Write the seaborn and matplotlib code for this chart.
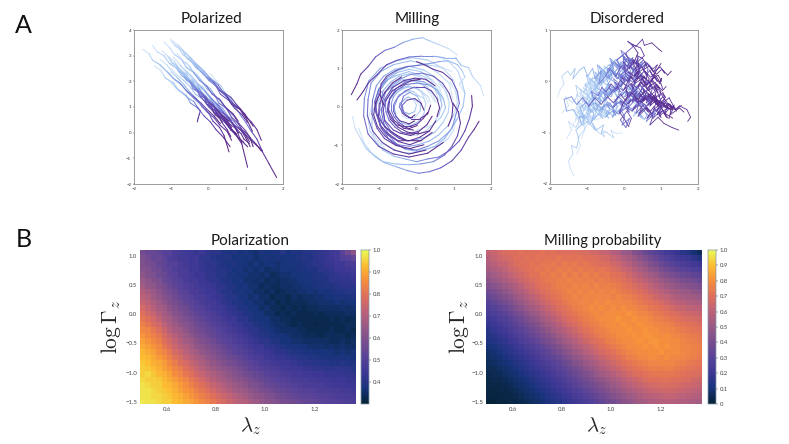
import numpy as np
import pandas as pd
import matplotlib
matplotlib.use('Agg')
import matplotlib.pyplot as plt
import seaborn as sns
from matplotlib.colors import LinearSegmentedColormap

sns.set_theme(style='white')
plt.rcParams['font.family'] = ['Lato', 'DejaVu Sans']

## trajectories
polarized_x = [
    [-1.77,-1.6,-1.5,-1.3,-1.12,-0.95,-0.78,-0.6,-0.42,-0.2,-0.05,0.15,0.32],
    [-1.5,-1.38,-1.2,-1.05,-0.85,-0.72,-0.5,-0.35,-0.15,0.0,0.2,0.35,0.55],
    [-1.2,-1.05,-0.92,-0.72,-0.6,-0.4,-0.25,-0.05,0.1,0.3,0.45,0.65,0.8],
    [-1.03,-0.9,-0.7,-0.58,-0.38,-0.22,-0.05,0.15,0.3,0.5,0.62,0.85,1.0],
    [-1.0,-0.82,-0.7,-0.5,-0.35,-0.15,0.0,0.2,0.32,0.55,0.7,0.9,1.05],
    [-0.98,-0.8,-0.62,-0.48,-0.28,-0.12,0.05,0.25,0.38,0.6,0.75,0.98,1.2],
    [-0.9,-0.75,-0.55,-0.4,-0.22,-0.05,0.12,0.3,0.48,0.65,0.85,1.0,1.18],
    [-1.4,-1.25,-1.05,-0.9,-0.72,-0.55,-0.4,-0.2,-0.05,0.15,0.3,0.5,0.62],
    [-1.45,-1.28,-1.15,-0.95,-0.8,-0.6,-0.48,-0.28,-0.12,0.05,0.2,0.4,0.58],
    [-1.2,-1.02,-0.88,-0.7,-0.55,-0.4,-0.3,-0.22,-0.25,-0.28,-0.3],
    [-1.0,-0.85,-0.68,-0.5,-0.35,-0.15,0.0,0.2,0.38,0.55,0.7,0.88,1.05],
    [-0.7,-0.55,-0.38,-0.2,-0.05,0.15,0.3,0.5,0.65,0.85,1.02,1.2,1.45],
    [-0.55,-0.4,-0.25,-0.05,0.1,0.3,0.45,0.62,0.82,1.0,1.15,1.3,1.42],
    [0.05,0.2,0.35,0.42,0.6,0.7,0.85,1.0,1.15,1.3,1.45,1.62,1.83],
    [-0.95,-0.8,-0.62,-0.45,-0.3,-0.1,0.05,0.25,0.4,0.58,0.72,0.88,1.05],
    [-0.85,-0.7,-0.5,-0.38,-0.2,-0.05,0.15,0.28,0.48,0.62,0.8,0.95,1.1],
    [-1.1,-0.92,-0.78,-0.6,-0.45,-0.25,-0.1,0.1,0.22,0.42,0.55,0.72,0.9],
    [-0.6,-0.48,-0.3,-0.15,0.05,0.18,0.35,0.5,0.68,0.82,0.98,1.1,1.2],
    [-1.25,-1.08,-0.95,-0.75,-0.6,-0.42,-0.28,-0.1,0.05,0.22,0.35,0.5,0.6],
    [-0.75,-0.6,-0.45,-0.28,-0.1,0.05,0.22,0.35,0.55,0.7,0.88,1.0,1.12],
    [-0.4,-0.25,-0.1,0.05,0.2,0.38,0.52,0.68,0.82,0.98,1.12,1.28,1.42],
    [-1.3,-1.12,-0.98,-0.82,-0.65,-0.5,-0.32,-0.18,0.0,0.12,0.3,0.42,0.55],
    [-1.05,-0.98,-0.85,-0.8,-0.68,-0.62,-0.5,-0.42,-0.3,-0.24,-0.1,-0.05,0.08,0.15,0.28,0.38],
    [-0.8,-0.72,-0.6,-0.55,-0.42,-0.38,-0.25,-0.18,-0.05,0.0,0.12,0.2,0.3,0.38,0.5,0.62],
    [-0.62,-0.55,-0.42,-0.38,-0.25,-0.2,-0.08,0.0,0.1,0.18,0.28,0.38,0.48,0.58,0.7,0.82],
    [-0.9,-0.78,-0.72,-0.6,-0.55,-0.42,-0.36,-0.22,-0.18,-0.05,0.02,0.15,0.2,0.35,0.42,0.52],
    [-0.5,-0.42,-0.3,-0.26,-0.12,-0.08,0.05,0.12,0.22,0.3,0.42,0.5,0.62,0.72,0.8,0.95],
    [-1.15,-1.05,-0.98,-0.85,-0.8,-0.66,-0.6,-0.48,-0.42,-0.28,-0.22,-0.1,-0.02,0.1,0.18,0.3],
    [-0.72,-0.6,-0.55,-0.42,-0.35,-0.22,-0.18,-0.05,0.02,0.15,0.2,0.32,0.42,0.52,0.6,0.75],
    [-0.35,-0.28,-0.15,-0.1,0.02,0.1,0.2,0.28,0.38,0.48,0.55,0.68,0.78,0.88,0.95,1.1],
]
polarized_y = [
    [3.25,3.08,2.82,2.65,2.38,2.12,1.95,1.65,1.42,1.15,0.92,0.65,0.35],
    [3.4,3.15,3.0,2.7,2.5,2.22,2.0,1.7,1.5,1.2,0.95,0.7,0.45],
    [3.55,3.32,3.05,2.85,2.55,2.35,2.05,1.82,1.5,1.3,1.0,0.75,0.45],
    [3.65,3.38,3.2,2.9,2.7,2.4,2.15,1.95,1.65,1.4,1.1,0.9,0.6],
    [3.55,3.35,3.05,2.85,2.55,2.32,2.05,1.82,1.5,1.25,0.95,0.7,0.4],
    [3.6,3.4,3.12,2.92,2.62,2.4,2.12,1.88,1.6,1.38,1.1,0.72,0.25],
    [3.45,3.25,3.0,2.72,2.5,2.2,2.0,1.68,1.45,1.15,0.92,0.6,0.05],
    [2.75,2.55,2.32,2.05,1.85,1.55,1.35,1.08,0.82,0.58,0.3,0.05,-0.3],
    [2.6,2.42,2.12,1.95,1.65,1.45,1.15,0.95,0.65,0.42,0.12,-0.18,-0.55],
    [2.2,1.98,1.75,1.55,1.35,1.22,1.0,0.85,0.7,0.55,0.42],
    [2.5,2.25,2.05,1.8,1.5,1.3,1.0,0.75,0.5,0.2,-0.05,-0.3,-0.55],
    [2.3,2.08,1.82,1.6,1.32,1.12,0.85,0.62,0.35,0.12,-0.12,-0.38,-0.7],
    [2.9,2.65,2.45,2.15,1.95,1.65,1.45,1.15,0.95,0.62,0.42,0.12,-0.3],
    [2.3,2.02,1.8,1.6,1.3,1.05,0.7,0.4,0.05,-0.25,-0.75,-1.2,-1.75],
    [2.95,2.7,2.42,2.2,1.9,1.65,1.35,1.1,0.8,0.5,0.2,-0.35,-1.35],
    [3.1,2.82,2.58,2.28,2.05,1.72,1.5,1.15,0.95,0.6,0.35,0.0,-0.35],
    [3.0,2.78,2.48,2.25,1.95,1.72,1.42,1.18,0.88,0.62,0.3,-0.05,-0.45],
    [2.75,2.48,2.25,1.95,1.72,1.42,1.18,0.9,0.65,0.35,0.1,-0.15,-0.55],
    [3.2,2.95,2.7,2.45,2.15,1.92,1.6,1.35,1.02,0.78,0.42,0.12,-0.15],
    [2.6,2.35,2.1,1.82,1.62,1.32,1.1,0.8,0.58,0.28,0.08,-0.2,-0.55],
    [2.1,1.88,1.62,1.4,1.15,0.95,0.65,0.45,0.2,0.02,-0.2,-0.45,-0.72],
    [2.85,2.65,2.35,2.12,1.85,1.58,1.32,1.02,0.78,0.45,0.2,-0.12,-0.75],
    [2.9,2.7,2.62,2.42,2.3,2.1,1.98,1.8,1.68,1.45,1.35,1.12,1.0,0.78,0.62,0.4],
    [2.5,2.38,2.3,2.08,1.98,1.78,1.7,1.5,1.38,1.2,1.08,0.9,0.75,0.6,0.42,0.2],
    [2.25,2.12,2.02,1.82,1.72,1.52,1.45,1.25,1.12,0.98,0.85,0.62,0.52,0.32,0.2,-0.02],
    [2.7,2.5,2.4,2.25,2.08,1.95,1.75,1.62,1.42,1.32,1.12,1.0,0.82,0.62,0.5,0.3],
    [1.95,1.82,1.7,1.52,1.42,1.22,1.12,0.92,0.8,0.62,0.45,0.32,0.12,0.0,-0.2,-0.38],
    [3.05,2.88,2.72,2.58,2.38,2.25,2.05,1.92,1.72,1.58,1.4,1.22,1.08,0.88,0.7,0.55],
    [2.4,2.28,2.08,1.98,1.78,1.65,1.45,1.32,1.12,1.0,0.78,0.62,0.48,0.28,0.1,-0.05],
    [2.05,1.88,1.78,1.58,1.45,1.28,1.12,0.95,0.82,0.6,0.48,0.28,0.1,-0.05,-0.25,-0.42],
]

milling_x = [
    [1.1,0.85,0.6,0.35,0.15,-0.1,-0.35,-0.6,-0.85,-1.1,-1.3,-1.5,-1.6,-1.75],
    [-1.72,-1.65,-1.5,-1.35,-1.1,-0.85,-0.55,-0.25,0.05,0.35,0.65,0.95,1.2,1.4,1.55,1.68],
    [1.8,1.72,1.5,1.4,1.2,1.05,0.75,0.45,0.15,-0.2,-0.5,-0.8,-1.05,-1.3,-1.42,-1.6],
    [-1.2,-1.3,-1.25,-1.1,-0.9,-0.6,-0.3,0.0,0.3,0.6,0.9,1.15,1.3,1.42,1.5,1.48],
    [0.6,0.9,1.1,1.22,1.3,1.25,1.1,0.9,0.6,0.3,0.0,-0.3,-0.6,-0.85,-1.05,-1.15,-1.1,-0.95],
    [-0.95,-0.7,-0.4,-0.1,0.2,0.5,0.75,0.95,1.05,1.15,1.1,0.95,0.7,0.45,0.2,0.0],
    [0.9,1.05,1.1,1.0,0.85,0.6,0.35,0.05,-0.2,-0.5,-0.75,-0.95,-1.02,-1.0,-0.85,-0.65,-0.4],
    [0.6,0.8,0.88,0.85,0.7,0.5,0.25,0.0,-0.25,-0.5,-0.7,-0.85,-0.9,-0.82,-0.65,-0.42,-0.15,0.1],
    [-0.2,0.0,0.25,0.45,0.6,0.68,0.62,0.45,0.2,-0.05,-0.3,-0.55,-0.72,-0.78,-0.7,-0.5,-0.25,0.05,0.35],
    [0.0,0.15,0.25,0.2,0.05,-0.15,-0.38,-0.55,-0.6,-0.5,-0.3,-0.05,0.2,0.4,0.55,0.62,0.55],
    [-0.4,-0.25,-0.05,0.1,0.12,0.02,-0.18,-0.35,-0.42,-0.35,-0.15,0.1,0.3,0.38],
    [-0.25,-0.1,0.0,-0.05,-0.2,-0.35,-0.38,-0.25,-0.05,0.12,0.2],
    [1.3,1.15,1.3,1.22,1.1,0.85,0.62,0.3,0.05,-0.25,-0.55,-0.8,-0.95,-0.98,-0.88],
    [-0.75,-0.95,-1.15,-1.2,-1.18,-1.0,-0.75,-0.45,-0.15,0.15,0.45,0.7,0.88,0.98,0.95,0.85],
    [1.05,1.0,0.85,0.6,0.3,0.0,-0.3,-0.55,-0.75,-0.88,-0.95,-0.85,-0.65,-0.35,-0.05,0.25,0.5],
    [-1.55,-1.4,-1.2,-0.9,-0.55,-0.2,0.1,0.45,0.75,0.95,1.1,1.18,1.12,0.98],
    [0.95,0.7,0.4,0.1,-0.2,-0.5,-0.8,-1.02,-1.12,-1.05,-0.85,-0.55,-0.25],
    [-0.1,0.15,0.42,0.65,0.78,0.72,0.55,0.3,0.0,-0.3,-0.55,-0.72,-0.75,-0.6,-0.35,-0.08],
    [0.68,0.6,0.36,0.13,-0.2,-0.53,-0.76,-1.0,-1.06,-1.1,-0.96,-0.8,-0.49,-0.22,0.13],
    [0.52,0.42,0.3,0.02,-0.18,-0.43,-0.64,-0.82,-0.92,-0.88,-0.85,-0.62,-0.44,-0.16,0.06],
    [0.38,0.32,0.12,-0.02,-0.22,-0.38,-0.55,-0.7,-0.76,-0.78,-0.68,-0.56,-0.36,-0.2,0.02],
    [0.86,0.72,0.5,0.2,-0.22,-0.58,-0.88,-1.08,-1.18,-1.2,-1.06,-0.86,-0.55,-0.18,0.2],
    [0.98,0.88,0.58,0.22,-0.16,-0.62,-0.96,-1.22,-1.3,-1.32,-1.18,-0.92,-0.6,-0.2,0.25],
    [0.25,0.2,0.05,-0.08,-0.2,-0.32,-0.46,-0.55,-0.62,-0.62,-0.55,-0.45,-0.3,-0.2,-0.05],
    [0.08,0.02,-0.06,-0.14,-0.22,-0.3,-0.36,-0.44,-0.46,-0.42,-0.38,-0.3,-0.22,-0.12,-0.04],
    [0.6,0.5,0.32,0.06,-0.2,-0.46,-0.7,-0.9,-0.96,-1.0,-0.92,-0.7,-0.46,-0.2,0.1,0.35,0.52],
    [0.48,0.36,0.22,0.0,-0.2,-0.42,-0.62,-0.72,-0.84,-0.82,-0.74,-0.58,-0.38,-0.18,0.08,0.28,0.42],
    [0.75,0.62,0.42,0.12,-0.2,-0.5,-0.8,-1.0,-1.12,-1.08,-0.98,-0.78,-0.48,-0.18,0.14,0.42],
    [0.32,0.22,0.1,-0.04,-0.22,-0.36,-0.52,-0.62,-0.68,-0.68,-0.6,-0.48,-0.32,-0.16,0.02,0.18,0.3],
    [1.12,1.0,0.72,0.3,-0.12,-0.55,-0.98,-1.28,-1.4,-1.42,-1.3,-1.02,-0.62,-0.2,0.3,0.72],
]
milling_y = [
    [1.35,1.52,1.62,1.72,1.8,1.76,1.68,1.55,1.47,1.3,1.05,0.85,0.6,0.32],
    [-0.25,-0.55,-0.82,-1.08,-1.3,-1.45,-1.55,-1.65,-1.72,-1.68,-1.58,-1.4,-1.12,-0.78,-0.58,-0.37],
    [0.3,0.55,0.8,1.02,1.08,1.28,1.28,1.32,1.32,1.3,1.22,1.1,0.85,0.62,0.42,0.18],
    [0.02,-0.3,-0.62,-0.88,-1.12,-1.28,-1.35,-1.42,-1.35,-1.3,-1.12,-0.88,-0.62,-0.3,0.02,0.3],
    [1.3,1.15,0.95,0.65,0.35,0.02,-0.3,-0.62,-0.88,-1.02,-1.12,-1.08,-0.95,-0.75,-0.5,-0.2,0.1,0.4],
    [-0.95,-1.05,-1.18,-1.2,-1.12,-1.02,-0.82,-0.55,-0.22,0.1,0.4,0.7,0.9,0.98,1.1,1.18],
    [0.65,0.4,0.1,-0.2,-0.48,-0.72,-0.88,-0.98,-1.02,-0.98,-0.82,-0.55,-0.25,0.08,0.38,0.62,0.78],
    [0.62,0.4,0.12,-0.15,-0.42,-0.65,-0.78,-0.85,-0.88,-0.78,-0.62,-0.38,-0.1,0.18,0.42,0.55,0.68,0.72],
    [-0.72,-0.72,-0.62,-0.45,-0.2,0.05,0.3,0.52,0.65,0.7,0.65,0.48,0.22,-0.05,-0.32,-0.52,-0.65,-0.7,-0.62],
    [0.55,0.35,0.1,-0.18,-0.38,-0.48,-0.42,-0.25,0.0,0.25,0.42,0.52,0.52,0.42,0.22,-0.02,-0.25],
    [-0.22,-0.3,-0.28,-0.1,0.1,0.28,0.38,0.28,0.05,-0.15,-0.3,-0.3,-0.18,0.05],
    [0.25,0.22,0.05,-0.12,-0.18,-0.12,0.05,0.18,0.22,0.1,-0.08],
    [0.35,0.6,0.78,0.95,1.1,1.2,1.18,1.12,1.08,1.05,0.95,0.8,0.6,0.32,0.05],
    [-1.2,-0.98,-0.72,-0.42,-0.1,0.2,0.5,0.72,0.85,0.88,0.8,0.62,0.35,0.05,-0.25,-0.5],
    [-0.3,-0.6,-0.82,-1.0,-1.08,-1.15,-1.1,-0.95,-0.72,-0.42,-0.08,0.2,0.5,0.68,0.75,0.72,0.55],
    [-0.55,-0.95,-1.2,-1.42,-1.48,-1.5,-1.48,-1.42,-1.25,-1.02,-0.75,-0.42,-0.12,0.1],
    [0.92,1.02,1.08,1.1,1.05,0.95,0.75,0.45,0.12,-0.22,-0.52,-0.72,-0.88],
    [-0.65,-0.55,-0.48,-0.28,-0.02,0.22,0.45,0.58,0.62,0.58,0.42,0.2,-0.08,-0.35,-0.55,-0.6],
    [0.15,0.42,0.72,0.82,0.92,0.82,0.72,0.42,0.18,-0.12,-0.48,-0.66,-0.88,-0.87,-0.88],
    [0.12,0.36,0.52,0.68,0.72,0.7,0.54,0.4,0.12,-0.15,-0.35,-0.6,-0.68,-0.74,-0.66],
    [0.1,0.26,0.42,0.48,0.55,0.5,0.42,0.24,0.1,-0.12,-0.28,-0.46,-0.5,-0.56,-0.48],
    [0.18,0.52,0.78,0.96,1.06,0.98,0.8,0.55,0.18,-0.18,-0.55,-0.82,-1.0,-1.08,-0.98],
    [0.2,0.62,0.88,1.12,1.2,1.1,0.92,0.62,0.2,-0.22,-0.62,-0.92,-1.12,-1.22,-1.12],
    [0.08,0.22,0.3,0.4,0.42,0.38,0.32,0.18,0.06,-0.1,-0.24,-0.36,-0.4,-0.44,-0.36],
    [0.04,0.14,0.2,0.22,0.26,0.22,0.16,0.1,0.0,-0.06,-0.16,-0.22,-0.26,-0.26,-0.2],
    [0.16,0.46,0.66,0.8,0.86,0.8,0.64,0.42,0.14,-0.16,-0.42,-0.66,-0.82,-0.88,-0.78,-0.62,-0.36],
    [0.14,0.36,0.54,0.66,0.68,0.64,0.52,0.32,0.12,-0.12,-0.34,-0.52,-0.66,-0.7,-0.62,-0.46,-0.24],
    [0.12,0.5,0.7,0.92,0.98,0.9,0.7,0.48,0.16,-0.16,-0.48,-0.72,-0.9,-0.98,-0.86,-0.66],
    [0.12,0.3,0.42,0.5,0.52,0.48,0.38,0.26,0.08,-0.08,-0.26,-0.4,-0.5,-0.5,-0.44,-0.3,-0.14],
    [0.2,0.7,1.0,1.22,1.28,1.2,1.0,0.68,0.22,-0.22,-0.7,-1.02,-1.22,-1.3,-1.2,-0.92],
]

disordered_x = [
    [-1.35,-1.45,-1.5,-1.38,-1.42,-1.28,-1.22,-1.3,-1.15,-1.2,-1.08,-1.18,-1.02,-0.95,-0.82,-0.88,-0.7,-0.6,-0.48,-0.35,-0.22,-0.1,0.05,0.18,0.3,0.45,0.6],
    [-1.8,-1.72,-1.62,-1.68,-1.52,-1.45,-1.32,-1.38,-1.2,-1.08,-0.98,-0.85,-0.78,-0.62,-0.68,-0.5,-0.38,-0.22,-0.08,0.05,-0.02,0.15,0.25,0.4,0.35,0.5,0.62],
    [-0.05,-0.2,-0.35,-0.28,-0.5,-0.62,-0.55,-0.75,-0.88,-0.82,-0.98,-0.78,-0.6,-0.45,-0.3,-0.15,0.02,0.15,0.3,0.22,0.4,0.55,0.48,0.7,0.85,1.0,1.05],
    [-1.32,-1.2,-1.12,-1.25,-1.05,-0.98,-0.82,-0.9,-0.7,-0.58,-0.65,-0.45,-0.32,-0.4,-0.2,-0.05,0.08,-0.02,0.2,0.05,0.25,0.1,0.32,0.5,0.55,0.75,0.95,1.02],
    [-1.05,-0.92,-1.0,-0.82,-0.7,-0.78,-0.6,-0.45,-0.52,-0.3,-0.18,-0.28,-0.05,0.1,0.02,0.22,0.38,0.3,0.5,0.68,0.6,0.85,1.02,0.95,1.2,1.38,1.5,1.7,1.8,1.72],
    [-1.55,-1.42,-1.5,-1.3,-1.18,-1.25,-1.05,-0.9,-0.98,-0.75,-0.62,-0.7,-0.5,-0.35,-0.42,-0.2,-0.05,-0.12,0.1,0.25,0.15,0.38,0.55,0.45,0.7,0.88,1.05,1.2,1.1,1.32],
    [-1.1,-1.02,-0.9,-0.98,-0.8,-0.68,-0.75,-0.55,-0.42,-0.5,-0.3,-0.18,-0.25,-0.02,0.12,0.05,0.25,0.4,0.32,0.55,0.72,0.62,0.85,1.0,0.9,1.12,1.28,1.22],
    [-1.25,-1.12,-1.2,-1.0,-0.88,-0.95,-0.72,-0.6,-0.68,-0.45,-0.3,-0.38,-0.15,0.0,-0.08,0.15,0.28,0.2,0.42,0.32,0.55,0.45,0.22,0.38,0.25,0.4],
    [-1.4,-1.28,-1.35,-1.15,-1.02,-1.1,-0.88,-0.72,-0.8,-0.58,-0.42,-0.5,-0.25,-0.12,-0.2,0.05,0.18,0.1,0.32,0.48,0.38,0.62,0.78,0.7,0.92,1.08,1.3,1.48],
    [-0.92,-0.8,-0.88,-0.68,-0.55,-0.62,-0.4,-0.28,-0.35,-0.12,0.02,-0.05,0.18,0.3,0.22,0.45,0.58,0.5,0.72,0.88,0.8,1.02,0.9,0.75,0.85,1.0],
    [-1.68,-1.5,-1.58,-1.38,-1.25,-1.3,-1.1,-0.95,-1.02,-0.8,-0.68,-0.72,-0.52,-0.4,-0.45,-0.25,-0.1,-0.18,0.02,0.15,0.08,0.28,0.42,0.35,0.55,0.68,0.6,0.8,0.72],
    [-0.45,-0.6,-0.52,-0.72,-0.85,-0.78,-0.98,-1.12,-1.05,-1.22,-1.38,-1.55,-1.62,-1.42,-1.28,-1.12,-0.95,-0.78,-0.62,-0.45,-0.28,-0.1,0.05,0.2,0.38,0.55],
    [-1.15,-1.05,-1.12,-0.92,-0.8,-0.88,-0.65,-0.52,-0.6,-0.38,-0.25,-0.32,-0.1,0.02,-0.05,0.15,0.05,-0.1,0.08,0.2,0.12,0.0,-0.12,-0.02,0.1,0.05],
    [-1.28,-1.18,-1.25,-1.08,-0.95,-1.02,-0.85,-0.72,-0.78,-0.6,-0.48,-0.55,-0.35,-0.22,-0.28,-0.08,0.05,-0.02,0.2,0.35,0.28,0.48,0.62,0.55,0.75,0.9,0.82,1.0],
    [-1.0,-0.88,-0.95,-0.75,-0.62,-0.7,-0.5,-0.36,-0.44,-0.22,-0.08,-0.15,0.05,0.2,0.12,0.32,0.48,0.4,0.6,0.78,0.7,0.92,1.1,1.0,1.22,1.35,1.25,1.5,1.62],
    [-1.2,-1.28,-1.1,-1.18,-0.98,-1.05,-0.85,-0.7,-0.78,-0.55,-0.62,-0.4,-0.28,-0.35,-0.1,-0.18,0.05,0.18,0.1,0.3,0.22,0.45,0.38,0.6,0.52,0.78,0.7,0.9],
    [-1.22,-1.16,-1.2,-1.1,-1.04,-1.1,-0.98,-0.9,-0.96,-0.84,-0.76,-0.82,-0.68,-0.6,-0.66,-0.52,-0.44,-0.5,-0.36,-0.28,-0.34,-0.2,-0.1,-0.18,-0.02,0.06,0.0,0.16,0.26,0.2,0.34,0.44,0.38,0.52,0.62],
    [-1.05,-1.0,-1.06,-0.94,-0.86,-0.92,-0.78,-0.7,-0.76,-0.62,-0.54,-0.6,-0.46,-0.38,-0.44,-0.3,-0.2,-0.28,-0.12,-0.02,-0.1,0.06,0.16,0.08,0.24,0.34,0.26,0.42,0.54,0.46,0.62,0.74,0.66,0.82,0.92],
    [-0.95,-0.88,-0.94,-0.8,-0.72,-0.78,-0.64,-0.56,-0.62,-0.48,-0.38,-0.46,-0.3,-0.2,-0.28,-0.12,-0.02,-0.1,0.06,0.16,0.08,0.24,0.36,0.28,0.44,0.56,0.48,0.64,0.76,0.68,0.84,0.96,0.88,1.04,1.14],
    [-1.3,-1.24,-1.28,-1.16,-1.08,-1.14,-1.0,-0.92,-0.98,-0.84,-0.74,-0.82,-0.66,-0.56,-0.64,-0.48,-0.38,-0.46,-0.3,-0.2,-0.28,-0.12,-0.02,-0.1,0.06,0.18,0.1,0.26,0.38,0.3,0.46,0.58,0.5,0.66,0.78],
    [-0.85,-0.78,-0.84,-0.7,-0.6,-0.68,-0.52,-0.42,-0.5,-0.34,-0.24,-0.32,-0.16,-0.06,-0.14,0.02,0.14,0.06,0.22,0.34,0.26,0.42,0.54,0.46,0.62,0.74,0.66,0.82,0.94,0.86,1.02,1.14,1.06,1.22,1.36],
    [-1.12,-1.06,-1.1,-0.98,-0.9,-0.96,-0.82,-0.72,-0.8,-0.64,-0.54,-0.62,-0.46,-0.36,-0.44,-0.28,-0.16,-0.24,-0.08,0.04,-0.04,0.12,0.24,0.16,0.32,0.44,0.36,0.52,0.64,0.56,0.72,0.84,0.76,0.92,1.02],
    [-0.7,-0.64,-0.7,-0.56,-0.46,-0.54,-0.38,-0.28,-0.36,-0.2,-0.08,-0.16,0.0,0.1,0.02,0.18,0.3,0.22,0.38,0.5,0.42,0.58,0.7,0.62,0.78,0.9,0.82,0.98,1.1,1.02,1.18,1.28],
    [-1.18,-1.1,-1.16,-1.02,-0.94,-1.0,-0.86,-0.76,-0.84,-0.68,-0.58,-0.66,-0.5,-0.4,-0.48,-0.32,-0.22,-0.3,-0.14,-0.04,-0.12,0.04,0.14,0.06,0.22,0.32,0.24,0.4,0.5,0.42,0.56,0.66,0.58,0.72,0.82],
    [-0.98,-0.9,-0.96,-0.82,-0.74,-0.8,-0.66,-0.56,-0.64,-0.48,-0.38,-0.46,-0.3,-0.2,-0.28,-0.12,-0.02,-0.1,0.06,0.16,0.08,0.24,0.34,0.26,0.42,0.52,0.44,0.6,0.7,0.62,0.78,0.9,0.82,0.98,1.1],
    [-1.08,-1.0,-1.06,-0.92,-0.84,-0.9,-0.76,-0.66,-0.74,-0.58,-0.48,-0.56,-0.4,-0.3,-0.38,-0.22,-0.12,-0.2,-0.04,0.06,-0.02,0.14,0.24,0.16,0.32,0.42,0.34,0.5,0.6,0.52,0.68,0.8,0.72,0.88,1.0],
    [-0.6,-0.54,-0.6,-0.46,-0.38,-0.44,-0.3,-0.2,-0.28,-0.12,-0.02,-0.1,0.06,0.16,0.08,0.24,0.34,0.26,0.42,0.52,0.44,0.6,0.72,0.64,0.8,0.92,0.84,1.0,1.12,1.04,1.2,1.32,1.24,1.4,1.55],
    [-1.25,-1.2,-1.26,-1.14,-1.08,-1.14,-1.02,-0.94,-1.0,-0.88,-0.8,-0.86,-0.72,-0.64,-0.7,-0.58,-0.5,-0.56,-0.42,-0.34,-0.4,-0.26,-0.16,-0.24,-0.08,0.02,-0.06,0.1,0.2,0.12,0.28,0.38,0.3,0.46,0.56],
    [-1.0,-0.7,-0.4,-0.1,0.1,0.05,0.15,0.25,0.18,0.3,0.38,0.3,0.42,0.5,0.44,0.56,0.62,0.55,0.68,0.75,0.7,0.8,0.88,0.82,0.92,1.0,0.94,1.05,1.12,1.05],
    [-0.9,-0.6,-0.3,0.0,0.2,0.14,0.26,0.35,0.28,0.4,0.48,0.4,0.52,0.6,0.52,0.65,0.72,0.65,0.78,0.85,0.78,0.9,0.98,0.9,1.02,1.1,1.04,1.15,1.22,1.3],
    [-1.1,-0.8,-0.5,-0.2,0.0,-0.05,0.05,0.15,0.08,0.2,0.28,0.2,0.32,0.4,0.34,0.45,0.52,0.45,0.58,0.65,0.6,0.7,0.78,0.7,0.82,0.9,0.84,0.95,1.02,0.96],
    [-0.8,-0.5,-0.2,0.1,0.28,0.22,0.34,0.42,0.36,0.48,0.56,0.5,0.62,0.7,0.62,0.74,0.82,0.76,0.88,0.96,0.88,1.0,1.08,1.0,1.12,1.2,1.14,1.26,1.34,1.42],
    [-1.0,-0.7,-0.4,-0.15,0.05,0.0,0.12,0.2,0.12,0.25,0.32,0.25,0.36,0.3,0.42,0.5,0.42,0.55,0.48,0.6,0.68,0.6,0.72,0.66,0.78,0.85,0.78,0.9,0.84,0.96],
    [-0.75,-0.45,-0.15,0.12,0.3,0.25,0.38,0.45,0.38,0.5,0.44,0.55,0.62,0.55,0.68,0.6,0.72,0.8,0.72,0.85,0.78,0.9,0.98,0.9,1.02,0.95,1.08,1.15,1.08,1.2],
]
disordered_y = [
    [-1.85,-1.7,-1.55,-1.42,-1.25,-1.3,-1.1,-0.95,-0.85,-0.68,-0.72,-0.52,-0.4,-0.48,-0.35,-0.2,-0.28,-0.12,-0.2,-0.05,-0.15,0.02,-0.08,0.1,-0.02,0.12,0.05],
    [-0.3,-0.15,-0.05,0.1,0.2,0.12,0.25,0.05,0.22,0.28,0.1,0.25,0.05,0.2,-0.05,0.1,0.25,0.1,0.3,0.15,0.38,0.25,0.42,0.28,0.5,0.45,0.3],
    [-1.0,-1.02,-0.95,-1.1,-0.98,-1.02,-0.85,-0.95,-0.8,-0.62,-0.5,-0.42,-0.55,-0.4,-0.5,-0.3,-0.42,-0.2,-0.32,-0.12,-0.25,-0.05,0.1,-0.02,0.12,-0.05,-0.15],
    [-0.75,-0.55,-0.72,-0.4,-0.5,-0.28,-0.42,-0.2,-0.35,-0.12,0.05,-0.08,0.08,0.25,0.12,0.32,0.18,0.45,0.3,0.55,0.68,0.78,0.68,0.82,0.7,0.75,0.62,0.58],
    [-0.55,-0.4,-0.25,-0.38,-0.2,-0.05,-0.22,-0.1,-0.3,-0.15,-0.32,-0.12,-0.28,-0.12,-0.3,-0.18,-0.35,-0.2,-0.38,-0.25,-0.42,-0.3,-0.48,-0.62,-0.52,-0.55,-0.48,-0.55,-0.7,-0.78],
    [-1.12,-0.95,-0.78,-0.9,-0.7,-0.55,-0.72,-0.6,-0.42,-0.55,-0.38,-0.22,-0.38,-0.22,-0.05,-0.18,-0.02,0.15,0.02,-0.12,-0.3,-0.12,-0.28,-0.42,-0.3,-0.45,-0.3,-0.45,-0.62,-0.72],
    [-0.88,-0.7,-0.82,-0.62,-0.75,-0.58,-0.42,-0.55,-0.72,-0.55,-0.68,-0.5,-0.35,-0.5,-0.35,-0.18,-0.32,-0.45,-0.62,-0.45,-0.6,-0.72,-0.55,-0.7,-0.55,-0.42,-0.52,-0.72],
    [-0.62,-0.4,-0.22,-0.35,-0.15,0.05,-0.08,0.12,0.3,0.15,0.32,0.45,0.28,0.42,0.6,0.45,0.25,0.05,0.18,0.35,0.5,0.65,0.72,0.55,0.35,0.12],
    [-0.9,-0.72,-0.55,-0.68,-0.48,-0.3,-0.42,-0.25,-0.08,-0.22,-0.05,0.12,-0.02,-0.18,-0.35,-0.2,-0.35,-0.52,-0.35,-0.5,-0.68,-0.52,-0.68,-0.85,-0.7,-0.82,-0.9,-0.95],
    [-0.35,-0.18,-0.02,-0.15,0.05,0.22,0.08,0.28,0.12,0.28,0.12,-0.05,0.1,-0.05,-0.22,-0.08,-0.25,-0.4,-0.25,-0.4,-0.55,-0.42,-0.2,0.02,0.18,0.35],
    [-0.62,-0.48,-0.3,-0.42,-0.25,-0.08,-0.22,-0.05,0.12,-0.02,0.15,0.32,0.18,0.05,0.22,0.38,0.25,0.42,0.55,0.4,0.22,0.38,0.25,0.05,0.2,0.05,-0.12,-0.28,-0.45],
    [-1.0,-0.95,-1.08,-0.98,-0.82,-0.95,-0.78,-0.85,-0.65,-0.72,-0.55,-0.58,-0.35,-0.3,-0.45,-0.32,-0.48,-0.32,-0.45,-0.3,-0.42,-0.25,-0.38,-0.22,-0.35,-0.2],
    [-1.12,-0.92,-0.72,-0.85,-0.65,-0.78,-0.6,-0.45,-0.6,-0.42,-0.58,-0.7,-0.55,-0.68,-0.85,-0.72,-0.9,-0.75,-0.58,-0.72,-0.88,-0.72,-0.6,-0.42,-0.28,-0.12],
    [-1.42,-1.25,-1.1,-0.95,-0.78,-0.6,-0.75,-0.55,-0.4,-0.52,-0.35,-0.18,-0.3,-0.12,0.05,-0.08,0.12,0.28,0.15,0.3,0.12,0.28,0.1,-0.1,0.05,-0.12,-0.32,-0.48],
    [-0.75,-0.58,-0.42,-0.55,-0.38,-0.22,-0.38,-0.2,-0.05,-0.2,-0.02,0.15,0.0,0.15,0.32,0.15,0.02,0.2,0.05,-0.12,-0.28,-0.15,-0.35,-0.45,-0.32,-0.5,-0.65,-0.52,-0.6],
    [-0.48,-0.25,-0.38,-0.15,-0.28,-0.05,-0.2,-0.02,0.18,0.02,0.2,0.05,0.22,0.38,0.2,0.05,0.22,0.08,-0.08,-0.25,-0.4,-0.25,-0.42,-0.28,-0.15,-0.32,-0.48,-0.35],
    [-0.7,-0.62,-0.52,-0.58,-0.48,-0.38,-0.44,-0.34,-0.42,-0.32,-0.38,-0.28,-0.34,-0.24,-0.3,-0.2,-0.28,-0.18,-0.26,-0.16,-0.22,-0.12,-0.2,-0.1,-0.18,-0.08,-0.16,-0.06,-0.14,-0.04,-0.12,-0.02,-0.1,0.0,-0.08],
    [-0.4,-0.32,-0.22,-0.28,-0.18,-0.1,-0.16,-0.06,-0.14,-0.04,0.04,-0.04,0.06,0.14,0.06,0.16,0.06,0.14,0.04,0.12,0.02,0.1,0.0,0.08,-0.02,0.06,-0.06,0.02,-0.1,-0.02,-0.14,-0.06,-0.18,-0.1,-0.22],
    [-0.15,-0.08,0.0,-0.06,0.04,0.12,0.04,0.14,0.06,0.16,0.24,0.14,0.22,0.12,0.2,0.1,0.18,0.08,0.16,0.06,0.14,0.04,0.12,0.02,0.1,-0.02,0.06,-0.06,0.02,-0.1,-0.02,-0.14,-0.06,-0.18,-0.1],
    [-0.52,-0.44,-0.54,-0.46,-0.56,-0.48,-0.58,-0.5,-0.6,-0.52,-0.6,-0.5,-0.58,-0.48,-0.56,-0.46,-0.54,-0.44,-0.52,-0.42,-0.5,-0.4,-0.48,-0.38,-0.46,-0.36,-0.44,-0.34,-0.42,-0.32,-0.4,-0.3,-0.38,-0.28,-0.36],
    [-0.58,-0.5,-0.6,-0.52,-0.62,-0.54,-0.64,-0.56,-0.64,-0.54,-0.62,-0.52,-0.6,-0.5,-0.58,-0.48,-0.56,-0.46,-0.54,-0.44,-0.52,-0.42,-0.5,-0.4,-0.48,-0.38,-0.46,-0.36,-0.44,-0.34,-0.42,-0.52,-0.44,-0.54,-0.46],
    [-0.3,-0.22,-0.12,-0.2,-0.1,-0.02,-0.1,0.0,0.08,-0.02,0.06,0.16,0.06,0.16,0.26,0.16,0.26,0.36,0.26,0.34,0.24,0.32,0.22,0.3,0.2,0.28,0.16,0.24,0.12,0.2,0.08,0.16,0.04,0.12,0.0],
    [0.02,0.1,0.2,0.12,0.22,0.3,0.2,0.3,0.4,0.3,0.38,0.28,0.36,0.46,0.36,0.44,0.34,0.42,0.32,0.4,0.3,0.38,0.28,0.36,0.24,0.32,0.2,0.28,0.16,0.24,0.12,0.2],
    [-0.82,-0.74,-0.82,-0.72,-0.8,-0.7,-0.78,-0.68,-0.74,-0.64,-0.72,-0.62,-0.7,-0.6,-0.68,-0.58,-0.66,-0.56,-0.64,-0.54,-0.62,-0.52,-0.6,-0.5,-0.58,-0.48,-0.56,-0.46,-0.54,-0.62,-0.52,-0.6,-0.5,-0.58,-0.48],
    [-0.25,-0.15,-0.25,-0.16,-0.26,-0.16,-0.26,-0.16,-0.24,-0.14,-0.22,-0.12,-0.2,-0.1,-0.18,-0.08,-0.16,-0.26,-0.18,-0.28,-0.2,-0.3,-0.22,-0.32,-0.24,-0.34,-0.26,-0.36,-0.28,-0.38,-0.3,-0.4,-0.32,-0.42,-0.34],
    [-0.1,-0.02,-0.1,0.0,0.08,0.0,0.1,0.02,0.12,0.22,0.12,0.22,0.32,0.22,0.32,0.42,0.32,0.42,0.5,0.4,0.5,0.38,0.46,0.34,0.42,0.3,0.38,0.26,0.34,0.22,0.3,0.18,0.26,0.14,0.22],
    [-0.55,-0.47,-0.55,-0.45,-0.53,-0.43,-0.51,-0.41,-0.49,-0.39,-0.47,-0.37,-0.45,-0.35,-0.43,-0.33,-0.41,-0.31,-0.39,-0.29,-0.37,-0.27,-0.35,-0.45,-0.37,-0.47,-0.39,-0.49,-0.41,-0.51,-0.43,-0.53,-0.45,-0.55,-0.47],
    [-0.9,-0.8,-0.72,-0.8,-0.7,-0.62,-0.7,-0.6,-0.52,-0.6,-0.5,-0.42,-0.5,-0.4,-0.32,-0.4,-0.3,-0.22,-0.3,-0.2,-0.12,-0.2,-0.1,-0.02,-0.1,0.0,0.08,0.0,0.1,0.18,0.1,0.2,0.12,0.02,0.1],
    [-0.5,-0.4,-0.25,-0.1,0.05,0.15,0.08,0.2,0.3,0.22,0.12,0.05,0.16,0.08,-0.02,0.08,0.0,-0.1,-0.02,-0.12,-0.04,-0.15,-0.06,-0.18,-0.1,-0.2,-0.3,-0.22,-0.32,-0.25],
    [-0.6,-0.5,-0.4,-0.3,-0.2,-0.1,-0.18,-0.08,-0.2,-0.3,-0.2,-0.32,-0.24,-0.34,-0.26,-0.38,-0.3,-0.4,-0.32,-0.42,-0.34,-0.46,-0.38,-0.48,-0.4,-0.5,-0.42,-0.52,-0.44,-0.55],
    [-0.2,-0.1,0.0,0.12,0.25,0.35,0.28,0.4,0.3,0.42,0.34,0.44,0.36,0.46,0.38,0.28,0.36,0.26,0.34,0.24,0.12,0.22,0.1,0.2,0.08,0.0,0.08,-0.02,0.06,-0.05],
    [-0.7,-0.6,-0.5,-0.4,-0.3,-0.38,-0.46,-0.38,-0.48,-0.4,-0.5,-0.58,-0.5,-0.6,-0.52,-0.62,-0.54,-0.64,-0.56,-0.48,-0.58,-0.5,-0.6,-0.52,-0.62,-0.54,-0.46,-0.56,-0.48,-0.58],
    [-0.35,-0.25,-0.15,-0.05,0.05,-0.05,-0.15,-0.08,-0.18,-0.1,-0.02,-0.12,-0.2,-0.12,-0.22,-0.14,-0.06,-0.16,-0.26,-0.18,-0.1,-0.22,-0.32,-0.24,-0.34,-0.26,-0.36,-0.28,-0.4,-0.5],
    [-0.75,-0.65,-0.55,-0.5,-0.6,-0.68,-0.6,-0.7,-0.62,-0.72,-0.64,-0.74,-0.66,-0.58,-0.68,-0.78,-0.7,-0.6,-0.7,-0.62,-0.72,-0.64,-0.55,-0.65,-0.58,-0.68,-0.6,-0.7,-0.62,-0.72],
]

## heatmap cells in percent, top row first
polarization = [
    [57,55,55,53,51,51,47,46,45,44,43,44,42,41,41,39,38,39,37,38,37,36,38,37,38,38,40,37,39,38,40,40,41,42,43,45,46,52,56,62],
    [59,57,54,55,52,49,48,46,46,44,45,42,42,40,39,39,39,37,38,37,38,36,37,38,37,38,37,38,38,39,40,39,41,42,43,44,46,49,51,54],
    [60,58,57,54,53,50,50,47,46,45,45,43,41,42,40,39,38,39,37,37,36,37,36,37,37,36,37,37,38,38,39,40,41,41,43,43,45,45,47,48],
    [61,60,57,56,53,52,49,48,47,44,45,43,42,41,40,40,39,37,38,36,37,36,37,35,36,36,37,37,37,38,38,39,39,41,41,42,44,44,45,46],
    [63,60,59,56,55,52,51,48,47,46,44,44,42,42,40,40,38,38,37,37,36,36,35,36,34,35,36,36,37,37,38,38,39,39,40,41,42,43,43,44],
    [65,63,60,59,55,54,51,50,48,46,46,44,43,41,41,39,39,37,38,36,36,35,36,34,35,34,35,36,36,37,37,38,38,39,39,41,41,42,42,43],
    [67,64,63,60,58,55,53,51,49,48,46,45,44,43,41,41,39,39,37,38,36,36,34,35,34,34,35,35,36,36,37,37,38,38,39,39,40,41,41,41],
    [70,67,65,62,59,57,55,52,51,48,48,46,44,44,42,40,40,38,38,37,37,35,35,34,35,33,34,35,35,36,36,37,36,38,37,38,39,39,40,40],
    [72,70,66,64,61,59,56,54,52,50,48,47,46,44,43,42,40,40,38,38,36,37,35,35,33,34,34,33,35,34,35,35,36,36,37,37,38,38,38,39],
    [74,72,69,66,63,60,58,56,53,52,50,48,46,46,44,42,41,39,39,37,38,36,36,34,35,33,34,33,34,34,34,35,35,36,36,36,37,36,37,37],
    [77,74,71,68,66,62,60,57,56,53,51,50,48,46,45,44,42,41,39,39,37,37,35,36,34,34,33,34,33,34,33,34,34,35,35,35,35,36,35,36],
    [79,76,74,70,68,65,61,60,57,55,53,51,50,48,46,45,43,42,41,39,39,37,37,35,35,33,34,33,34,33,33,33,34,33,34,34,34,34,35,35],
    [81,79,76,73,69,67,64,61,59,57,55,53,51,49,48,46,44,44,41,41,39,38,37,37,35,35,34,34,33,33,33,33,33,33,33,34,33,34,33,34],
    [83,81,78,76,72,69,66,63,61,59,56,55,53,51,49,48,46,44,43,41,41,39,38,37,36,35,35,34,33,34,33,33,32,33,33,33,33,33,34,34],
    [85,84,81,78,75,71,68,66,63,60,58,56,54,53,51,49,47,46,44,43,41,41,39,38,37,36,35,35,35,34,34,33,33,33,33,34,33,33,34,33],
    [87,85,83,81,77,74,71,68,65,63,60,58,56,54,52,51,49,47,46,44,43,41,40,39,38,37,37,36,35,35,34,34,34,33,34,34,34,34,33,34],
    [89,87,85,83,79,76,73,70,67,65,62,60,58,56,54,52,51,49,47,46,44,43,41,41,39,39,37,37,36,36,35,35,35,35,35,34,34,35,34,35],
    [90,89,87,85,81,78,75,72,70,67,64,62,60,58,56,54,52,51,49,47,46,44,44,42,41,40,39,38,38,37,37,36,36,36,35,36,35,36,35,35],
    [92,90,89,86,84,81,77,75,72,69,67,64,62,60,58,56,54,52,51,49,48,46,45,44,43,41,41,40,39,39,38,38,37,37,37,37,36,37,36,37],
    [93,92,90,88,86,83,80,77,74,72,69,67,64,62,60,58,56,55,53,51,49,48,47,45,44,43,43,42,41,40,40,39,39,38,38,38,38,38,38,37],
    [94,93,91,90,88,85,82,79,77,74,72,69,66,64,62,60,58,57,55,53,52,50,48,47,46,45,44,44,43,42,41,41,40,40,40,39,39,40,39,39],
    [95,94,93,91,89,87,84,82,79,77,74,71,69,66,64,62,61,59,57,55,53,52,50,49,48,47,46,45,45,44,43,43,42,42,41,41,42,41,41,40],
    [95,96,94,92,91,89,86,84,81,79,76,74,71,69,67,65,63,61,59,57,56,54,53,51,50,49,48,47,46,46,45,45,44,44,43,43,43,43,42,42],
    [96,95,95,94,92,90,88,86,84,81,79,76,74,71,69,67,65,63,62,60,58,56,55,53,52,51,50,49,48,47,47,46,46,45,45,44,44,44,43,43],
    [97,96,95,95,93,92,90,88,86,83,81,79,76,74,72,70,68,66,64,62,60,59,57,55,54,53,52,51,50,49,48,48,47,47,46,46,45,45,44,44],
    [97,97,96,95,94,93,91,89,87,86,83,81,79,76,74,72,70,68,66,65,63,61,59,58,56,55,54,53,52,51,50,50,49,48,48,47,47,46,46,45],
    [97,97,96,96,95,94,92,91,89,87,85,83,81,79,77,75,73,71,69,67,65,63,62,60,59,57,56,55,54,53,52,52,51,50,50,49,48,48,47,47],
    [98,97,97,96,95,95,93,92,90,89,87,85,83,81,79,77,75,73,71,70,68,66,64,62,61,60,58,57,56,55,54,54,53,52,51,51,50,49,49,48],
]
milling_prob = [
    [62,64,66,68,70,69,71,70,71,70,72,70,71,69,70,69,70,68,68,66,66,63,62,58,56,51,49,44,41,36,33,29,26,23,21,18,15,13,9,6],
    [59,62,64,66,67,70,69,71,70,72,71,72,71,73,71,72,71,72,70,70,69,67,66,63,60,57,54,50,46,42,39,35,31,28,25,23,21,19,16,13],
    [57,59,62,63,66,68,70,70,72,71,73,73,74,72,74,73,74,72,73,71,71,69,69,66,64,61,58,54,51,47,43,40,36,33,30,28,26,24,22,20],
    [54,56,58,61,64,66,68,70,71,73,72,74,73,75,74,75,73,75,73,74,72,73,71,69,67,64,62,58,55,52,48,45,41,38,35,33,31,30,28,26],
    [50,53,55,58,61,64,66,68,71,71,74,73,75,74,76,74,76,74,76,74,75,73,74,71,70,68,65,62,59,56,53,50,46,43,40,38,36,35,33,31],
    [46,49,52,55,58,60,64,66,68,71,72,74,74,76,75,77,75,76,75,76,74,75,74,73,72,70,68,65,63,60,57,54,51,48,45,43,41,40,38,36],
    [42,45,48,51,54,57,60,64,66,69,71,72,74,75,76,75,77,76,77,75,77,75,76,75,74,72,71,68,66,64,61,58,55,52,50,47,46,44,43,41],
    [38,41,44,47,50,54,57,60,64,66,69,71,73,74,75,77,76,78,76,78,76,77,76,77,75,74,73,71,69,67,64,62,59,57,54,52,50,49,47,46],
    [34,37,40,43,46,50,53,57,60,63,66,69,71,73,75,75,77,76,78,77,78,77,78,76,78,76,75,74,72,70,68,65,63,61,58,56,54,53,52,51],
    [30,33,36,39,42,46,49,53,57,60,63,66,69,71,73,75,76,77,78,77,79,77,79,78,78,77,77,75,74,72,71,69,67,64,62,60,59,57,56,55],
    [27,29,32,35,38,42,45,49,53,56,60,63,66,69,71,73,75,76,77,79,78,80,78,79,78,80,78,78,76,75,73,72,70,68,66,64,63,61,60,60],
    [24,26,29,31,35,38,41,45,49,52,56,60,63,66,69,71,73,75,76,78,79,78,80,79,80,79,81,79,78,77,76,74,73,71,69,68,66,65,64,63],
    [21,23,26,28,31,34,37,41,45,48,52,56,59,63,66,69,71,73,75,76,78,79,79,80,82,80,79,81,79,79,78,76,75,74,72,71,69,68,67,66],
    [18,20,23,25,28,31,34,37,41,44,48,52,55,59,63,66,68,71,73,75,76,78,79,80,79,81,80,79,81,80,79,78,77,76,75,73,72,71,70,69],
    [15,18,20,22,25,28,31,34,37,41,44,48,52,55,59,62,65,68,71,73,75,76,78,79,80,79,81,80,80,81,80,80,78,78,77,75,74,73,72,71],
    [13,15,17,20,22,25,28,31,34,37,41,44,48,52,55,59,62,65,68,70,73,75,76,78,79,80,80,81,80,82,81,80,79,80,78,77,76,75,74,73],
    [12,13,15,17,20,22,25,28,31,34,37,41,44,48,52,55,58,62,65,68,70,72,75,76,78,79,79,80,81,80,81,82,80,80,79,79,77,76,75,74],
    [10,11,13,15,17,19,22,25,27,30,33,37,40,44,48,51,55,58,61,64,67,70,72,74,76,77,79,79,80,81,80,81,80,81,79,79,78,77,76,75],
    [8,9,11,13,15,17,19,22,24,27,30,33,37,40,44,47,51,54,58,61,64,67,69,71,74,75,77,78,79,79,80,80,81,79,80,79,78,77,76,75],
    [7,8,9,11,13,15,17,19,22,24,27,30,33,36,40,43,47,50,54,57,60,63,66,68,71,73,75,76,78,78,79,79,78,80,78,78,77,76,75,74],
    [6,7,8,9,11,13,15,17,19,22,24,27,30,33,36,39,43,46,50,53,56,60,62,65,68,70,72,74,75,76,77,77,78,77,77,76,75,74,73,72],
    [5,5,7,8,9,11,13,15,17,19,22,24,27,30,33,36,39,42,46,49,52,56,59,62,64,67,69,71,72,74,75,75,75,76,75,74,73,72,71,70],
    [4,5,5,7,8,9,11,13,15,17,19,22,24,27,30,33,36,39,42,45,49,52,55,58,61,63,66,68,70,71,72,73,73,73,73,72,71,70,69,68],
    [3,4,4,5,7,8,9,11,13,15,17,19,22,24,27,30,33,36,39,42,45,48,51,54,57,60,62,64,66,68,70,70,71,71,70,70,69,68,66,65],
    [3,3,3,4,5,7,8,9,11,13,15,17,19,22,24,27,30,33,36,38,41,44,47,50,53,56,59,61,63,65,66,67,68,68,68,67,66,65,64,63],
    [2,2,3,3,4,5,7,8,9,11,13,15,17,19,22,24,27,29,32,35,38,41,44,47,49,52,55,57,59,61,63,64,65,65,65,64,63,62,61,60],
    [2,2,2,3,3,4,5,7,8,9,11,13,15,17,19,21,24,26,29,32,34,37,40,43,46,48,51,53,56,58,59,60,61,62,62,61,60,59,58,57],
    [1,1,2,2,3,3,4,5,7,8,9,11,13,15,17,19,21,24,26,28,31,34,37,39,42,45,47,50,52,54,56,57,58,58,58,57,57,56,55,54],
]
lambda_ticks = [0.6, 0.8, 1.0, 1.2]
gamma_ticks = [1.0, 0.5, 0.0, -0.5, -1.0, -1.5]
lambda_range = (0.49, 1.37)
gamma_range = (-1.54, 1.10)

thermal = LinearSegmentedColormap.from_list('thermal', [
    (4/255, 35/255, 51/255), (23/255, 51/255, 122/255), (60/255, 55/255, 148/255),
    (87/255, 66/255, 152/255), (119/255, 77/255, 143/255), (152/255, 89/255, 134/255),
    (187/255, 97/255, 121/255), (222/255, 111/255, 92/255), (245/255, 141/255, 62/255),
    (252/255, 188/255, 49/255), (232/255, 250/255, 91/255)])
track_cmap = LinearSegmentedColormap.from_list('track', ['#cfe3f9', '#a9c9f2', '#8db0ea', '#6f6fd0', '#5f3fa8', '#5a2a8c'])

W, H = 789, 444


def px_axes(fig, x0, y0, x1, y1):
    # pixel box in the picture to a figure axes
    return fig.add_axes([x0 / W, 1 - y1 / H, (x1 - x0) / W, (y1 - y0) / H])


def segments(xs, ys):
    # one row pair per segment, so hue can change along the track
    rows = []
    n = 0
    for tx, ty in zip(xs, ys):
        m = min(len(tx), len(ty))
        for i in range(m - 1):
            t = i / (m - 2)
            rows.append((n, t, tx[i], ty[i]))
            rows.append((n, t, tx[i + 1], ty[i + 1]))
            n += 1
    return pd.DataFrame(rows, columns=['seg', 't', 'x', 'y'])


def track_panel(ax, xs, ys, ylim, yticks, lw):
    df = segments(xs, ys)
    sns.lineplot(data=df, x='x', y='y', hue='t', units='seg', estimator=None, sort=False,
                 palette=track_cmap, hue_norm=(0, 1), linewidth=lw, legend=False, ax=ax)
    ax.set_xlim(-2, 2)
    ax.set_ylim(*ylim)
    ax.set_xticks([-2, -1, 0, 1, 2])
    ax.set_yticks(yticks)
    ax.set_xlabel('')
    ax.set_ylabel('')
    ax.tick_params(labelsize=3.2, length=1, width=0.3, pad=1, labelcolor='#333333', bottom=True, left=True)
    for s in ax.spines.values():
        s.set_color('#9a9a9a')
        s.set_linewidth(0.7)


def heat_panel(fig, box, cbox, values, vmin, cticks, clabels, ylab_x):
    ax = px_axes(fig, *box)
    cax = px_axes(fig, *cbox)
    grid = np.array(values) / 100
    sns.heatmap(grid, ax=ax, cbar_ax=cax, cmap=thermal, vmin=vmin, vmax=1.0,
                xticklabels=False, yticklabels=False, rasterized=True)
    nrow, ncol = grid.shape
    ax.set_xticks([(v - lambda_range[0]) / (lambda_range[1] - lambda_range[0]) * ncol for v in lambda_ticks])
    ax.set_xticklabels(['%.1f' % v for v in lambda_ticks])
    ax.set_yticks([(gamma_range[1] - v) / (gamma_range[1] - gamma_range[0]) * nrow for v in gamma_ticks])
    ax.set_yticklabels([('%.1f' % v).replace('-', '\u2212') for v in gamma_ticks], rotation=0)
    ax.tick_params(labelsize=4.3, length=0, pad=2, labelcolor='#444444', bottom=True, left=True)
    cax.set_yticks(cticks)
    cax.set_yticklabels(clabels)
    cax.tick_params(labelsize=4.3, length=1.5, width=0.3, pad=1, labelcolor='#444444', right=True)
    for s in cax.spines.values():
        s.set_visible(True)
        s.set_color('#8899aa')
        s.set_linewidth(0.3)
    mid_x = (box[0] + box[2]) / 2 + 2
    fig.text(mid_x / W, 1 - 426 / H, r'$\lambda_z$', fontsize=15, math_fontfamily='cm', ha='center', va='center')
    fig.text(ylab_x / W, 1 - 327 / H, r'$\log\Gamma_z$', fontsize=15.5, math_fontfamily='cm', rotation=90,
             ha='center', va='center')


def title(fig, x, y, s):
    fig.text(x / W, 1 - y / H, s, fontsize=11, color='#1a1a1a', ha='center', va='baseline')


fig = plt.figure(figsize=(W / 100, H / 100), dpi=100)

track_panel(px_axes(fig, 134, 30, 283, 184), polarized_x, polarized_y, (-2, 4), [-2, -1, 0, 1, 2, 3, 4], 0.75)
track_panel(px_axes(fig, 342, 30, 491, 184), milling_x, milling_y, (-2, 2), [-2, -1, 0, 1, 2], 0.75)
track_panel(px_axes(fig, 550, 30, 698, 184), disordered_x, disordered_y, (-2, 1), [-2, -1, 0, 1], 0.6)

heat_panel(fig, (140, 250, 356, 404), (361, 250, 369, 404), polarization, 0.3,
           [0.4, 0.5, 0.6, 0.7, 0.8, 0.9, 1.0], ['0.4', '0.5', '0.6', '0.7', '0.8', '0.9', '1.0'], 111)
heat_panel(fig, (486, 250, 702, 404), (708, 250, 716, 404), milling_prob, 0.0,
           [0, 0.1, 0.2, 0.3, 0.4, 0.5, 0.6, 0.7, 0.8, 0.9, 1.0],
           ['0', '0.1', '0.2', '0.3', '0.4', '0.5', '0.6', '0.7', '0.8', '0.9', '1.0'], 459)

title(fig, 211, 23, 'Polarized')
title(fig, 417, 23, 'Milling')
title(fig, 627, 23, 'Disordered')
title(fig, 250, 245, 'Polarization')
fig.text(603 / W, 1 - 245 / H, 'Milling probability', fontsize=10.6, color='#1a1a1a', ha='center', va='baseline')

fig.text(15 / W, 1 - 33 / H, 'A', fontsize=18, color='#111111', va='baseline')
fig.text(16 / W, 1 - 247 / H, 'B', fontsize=18, color='#111111', va='baseline')

fig.savefig('out.png', dpi=100)
